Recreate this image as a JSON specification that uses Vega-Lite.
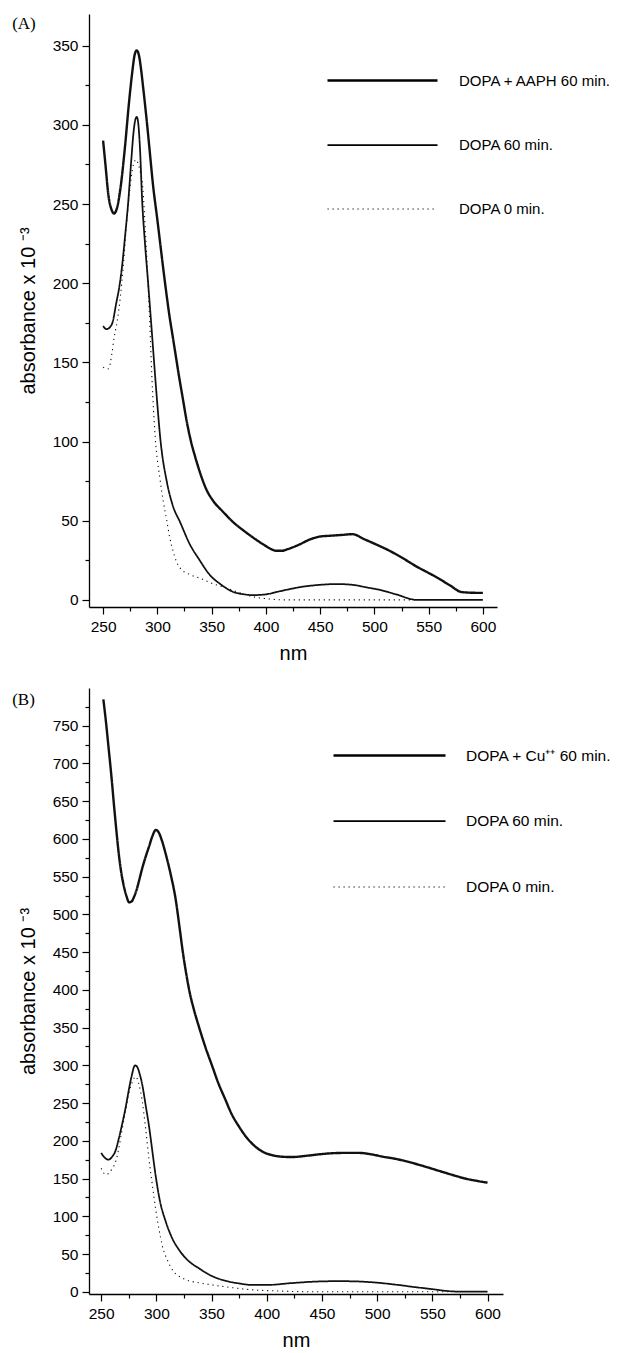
{
  "$schema": "https://vega.github.io/schema/vega-lite/v6.json",
  "background": "white",
  "padding": {"left": 12, "top": 14, "right": 5, "bottom": 0},
  "spacing": 24,
  "config": {
    "view": {"stroke": null},
    "font": "Liberation Sans",
    "axis": {
      "grid": false,
      "domainColor": "#000",
      "domainWidth": 1.3,
      "tickColor": "#000",
      "tickWidth": 1.2,
      "labelColor": "#000",
      "labelFont": "Liberation Sans",
      "labelFontSize": 15.5,
      "titleFont": "Liberation Sans",
      "titleFontSize": 20,
      "titleFontWeight": "normal",
      "titleColor": "#000",
      "labelExpr": "datum.value % 50 === 0 ? datum.label : ''",
      "tickSize": {"condition": {"test": "datum.value % 50 === 0", "value": 7}, "value": 4}
    },
    "axisX": {"labelPadding": 5, "titlePadding": 9},
    "axisY": {"labelPadding": 4, "titlePadding": 14},
    "legend": {
      "symbolType": "stroke",
      "symbolStrokeColor": "#000",
      "labelFont": "Liberation Sans",
      "labelColor": "#000",
      "labelLimit": 300,
      "title": null
    },
    "title": {"font": "Liberation Serif", "fontSize": 17, "fontWeight": "normal", "color": "#000"}
  },
  "datasets": {
    "A": [
      {"series": "DOPA + AAPH 60 min.", "nm": 250, "abs": 290},
      {"series": "DOPA + AAPH 60 min.", "nm": 252, "abs": 276},
      {"series": "DOPA + AAPH 60 min.", "nm": 255, "abs": 255},
      {"series": "DOPA + AAPH 60 min.", "nm": 258, "abs": 246},
      {"series": "DOPA + AAPH 60 min.", "nm": 260, "abs": 244},
      {"series": "DOPA + AAPH 60 min.", "nm": 263, "abs": 248},
      {"series": "DOPA + AAPH 60 min.", "nm": 266, "abs": 260},
      {"series": "DOPA + AAPH 60 min.", "nm": 270, "abs": 285},
      {"series": "DOPA + AAPH 60 min.", "nm": 274, "abs": 315},
      {"series": "DOPA + AAPH 60 min.", "nm": 277, "abs": 334},
      {"series": "DOPA + AAPH 60 min.", "nm": 279, "abs": 344},
      {"series": "DOPA + AAPH 60 min.", "nm": 281, "abs": 347},
      {"series": "DOPA + AAPH 60 min.", "nm": 283, "abs": 344},
      {"series": "DOPA + AAPH 60 min.", "nm": 285, "abs": 335},
      {"series": "DOPA + AAPH 60 min.", "nm": 287, "abs": 323},
      {"series": "DOPA + AAPH 60 min.", "nm": 290, "abs": 304},
      {"series": "DOPA + AAPH 60 min.", "nm": 293, "abs": 283},
      {"series": "DOPA + AAPH 60 min.", "nm": 296, "abs": 262},
      {"series": "DOPA + AAPH 60 min.", "nm": 300, "abs": 240},
      {"series": "DOPA + AAPH 60 min.", "nm": 303, "abs": 223},
      {"series": "DOPA + AAPH 60 min.", "nm": 306, "abs": 206},
      {"series": "DOPA + AAPH 60 min.", "nm": 309, "abs": 190},
      {"series": "DOPA + AAPH 60 min.", "nm": 311, "abs": 180},
      {"series": "DOPA + AAPH 60 min.", "nm": 314, "abs": 167},
      {"series": "DOPA + AAPH 60 min.", "nm": 317, "abs": 154},
      {"series": "DOPA + AAPH 60 min.", "nm": 320, "abs": 141},
      {"series": "DOPA + AAPH 60 min.", "nm": 323, "abs": 129},
      {"series": "DOPA + AAPH 60 min.", "nm": 327, "abs": 113},
      {"series": "DOPA + AAPH 60 min.", "nm": 331, "abs": 100},
      {"series": "DOPA + AAPH 60 min.", "nm": 335, "abs": 90},
      {"series": "DOPA + AAPH 60 min.", "nm": 339, "abs": 81},
      {"series": "DOPA + AAPH 60 min.", "nm": 345, "abs": 70},
      {"series": "DOPA + AAPH 60 min.", "nm": 352, "abs": 62},
      {"series": "DOPA + AAPH 60 min.", "nm": 360, "abs": 56},
      {"series": "DOPA + AAPH 60 min.", "nm": 370, "abs": 49},
      {"series": "DOPA + AAPH 60 min.", "nm": 380, "abs": 43.5},
      {"series": "DOPA + AAPH 60 min.", "nm": 390, "abs": 38.5},
      {"series": "DOPA + AAPH 60 min.", "nm": 400, "abs": 34},
      {"series": "DOPA + AAPH 60 min.", "nm": 405, "abs": 32},
      {"series": "DOPA + AAPH 60 min.", "nm": 410, "abs": 31},
      {"series": "DOPA + AAPH 60 min.", "nm": 415, "abs": 31},
      {"series": "DOPA + AAPH 60 min.", "nm": 420, "abs": 32},
      {"series": "DOPA + AAPH 60 min.", "nm": 431, "abs": 35},
      {"series": "DOPA + AAPH 60 min.", "nm": 440, "abs": 38},
      {"series": "DOPA + AAPH 60 min.", "nm": 450, "abs": 40},
      {"series": "DOPA + AAPH 60 min.", "nm": 459, "abs": 40.5},
      {"series": "DOPA + AAPH 60 min.", "nm": 470, "abs": 41},
      {"series": "DOPA + AAPH 60 min.", "nm": 480, "abs": 41.5},
      {"series": "DOPA + AAPH 60 min.", "nm": 490, "abs": 38.5},
      {"series": "DOPA + AAPH 60 min.", "nm": 500, "abs": 35.5},
      {"series": "DOPA + AAPH 60 min.", "nm": 514, "abs": 31},
      {"series": "DOPA + AAPH 60 min.", "nm": 527, "abs": 26},
      {"series": "DOPA + AAPH 60 min.", "nm": 539, "abs": 21},
      {"series": "DOPA + AAPH 60 min.", "nm": 550, "abs": 17},
      {"series": "DOPA + AAPH 60 min.", "nm": 558, "abs": 14},
      {"series": "DOPA + AAPH 60 min.", "nm": 570, "abs": 9},
      {"series": "DOPA + AAPH 60 min.", "nm": 580, "abs": 5},
      {"series": "DOPA + AAPH 60 min.", "nm": 590, "abs": 4.5},
      {"series": "DOPA + AAPH 60 min.", "nm": 600, "abs": 4.4},

      {"series": "DOPA 60 min.", "nm": 250, "abs": 173},
      {"series": "DOPA 60 min.", "nm": 253, "abs": 171},
      {"series": "DOPA 60 min.", "nm": 256, "abs": 172},
      {"series": "DOPA 60 min.", "nm": 259, "abs": 176},
      {"series": "DOPA 60 min.", "nm": 262, "abs": 187},
      {"series": "DOPA 60 min.", "nm": 265, "abs": 198},
      {"series": "DOPA 60 min.", "nm": 268, "abs": 214},
      {"series": "DOPA 60 min.", "nm": 270, "abs": 228},
      {"series": "DOPA 60 min.", "nm": 273, "abs": 250},
      {"series": "DOPA 60 min.", "nm": 276, "abs": 278},
      {"series": "DOPA 60 min.", "nm": 278, "abs": 295},
      {"series": "DOPA 60 min.", "nm": 280, "abs": 304},
      {"series": "DOPA 60 min.", "nm": 281, "abs": 305},
      {"series": "DOPA 60 min.", "nm": 282, "abs": 303},
      {"series": "DOPA 60 min.", "nm": 284, "abs": 285},
      {"series": "DOPA 60 min.", "nm": 286, "abs": 252},
      {"series": "DOPA 60 min.", "nm": 288.5, "abs": 226},
      {"series": "DOPA 60 min.", "nm": 291.5, "abs": 200},
      {"series": "DOPA 60 min.", "nm": 294.5, "abs": 173},
      {"series": "DOPA 60 min.", "nm": 297, "abs": 150},
      {"series": "DOPA 60 min.", "nm": 299.8, "abs": 125},
      {"series": "DOPA 60 min.", "nm": 303, "abs": 100},
      {"series": "DOPA 60 min.", "nm": 308.6, "abs": 75},
      {"series": "DOPA 60 min.", "nm": 314, "abs": 60},
      {"series": "DOPA 60 min.", "nm": 321, "abs": 49},
      {"series": "DOPA 60 min.", "nm": 330, "abs": 35},
      {"series": "DOPA 60 min.", "nm": 339, "abs": 25},
      {"series": "DOPA 60 min.", "nm": 348, "abs": 16},
      {"series": "DOPA 60 min.", "nm": 358, "abs": 10},
      {"series": "DOPA 60 min.", "nm": 370, "abs": 5},
      {"series": "DOPA 60 min.", "nm": 380, "abs": 3.5},
      {"series": "DOPA 60 min.", "nm": 388, "abs": 3},
      {"series": "DOPA 60 min.", "nm": 400, "abs": 3.5},
      {"series": "DOPA 60 min.", "nm": 410, "abs": 5},
      {"series": "DOPA 60 min.", "nm": 420, "abs": 6.5},
      {"series": "DOPA 60 min.", "nm": 431, "abs": 8},
      {"series": "DOPA 60 min.", "nm": 450, "abs": 9.5},
      {"series": "DOPA 60 min.", "nm": 465, "abs": 10},
      {"series": "DOPA 60 min.", "nm": 480, "abs": 9.5},
      {"series": "DOPA 60 min.", "nm": 492, "abs": 8},
      {"series": "DOPA 60 min.", "nm": 505, "abs": 6.3},
      {"series": "DOPA 60 min.", "nm": 520, "abs": 3.5},
      {"series": "DOPA 60 min.", "nm": 539, "abs": 0},
      {"series": "DOPA 60 min.", "nm": 560, "abs": 0},
      {"series": "DOPA 60 min.", "nm": 580, "abs": 0},
      {"series": "DOPA 60 min.", "nm": 600, "abs": 0},

      {"series": "DOPA 0 min.", "nm": 250, "abs": 147},
      {"series": "DOPA 0 min.", "nm": 253, "abs": 146},
      {"series": "DOPA 0 min.", "nm": 255, "abs": 146},
      {"series": "DOPA 0 min.", "nm": 258, "abs": 155},
      {"series": "DOPA 0 min.", "nm": 260, "abs": 165},
      {"series": "DOPA 0 min.", "nm": 263, "abs": 176},
      {"series": "DOPA 0 min.", "nm": 266, "abs": 192},
      {"series": "DOPA 0 min.", "nm": 268.5, "abs": 210},
      {"series": "DOPA 0 min.", "nm": 271, "abs": 232},
      {"series": "DOPA 0 min.", "nm": 273.5, "abs": 252},
      {"series": "DOPA 0 min.", "nm": 276, "abs": 267},
      {"series": "DOPA 0 min.", "nm": 278, "abs": 275},
      {"series": "DOPA 0 min.", "nm": 280.4, "abs": 278},
      {"series": "DOPA 0 min.", "nm": 282, "abs": 276},
      {"series": "DOPA 0 min.", "nm": 284, "abs": 271},
      {"series": "DOPA 0 min.", "nm": 286.6, "abs": 260},
      {"series": "DOPA 0 min.", "nm": 289, "abs": 232},
      {"series": "DOPA 0 min.", "nm": 291.7, "abs": 195},
      {"series": "DOPA 0 min.", "nm": 293, "abs": 175},
      {"series": "DOPA 0 min.", "nm": 295, "abs": 140},
      {"series": "DOPA 0 min.", "nm": 298, "abs": 103},
      {"series": "DOPA 0 min.", "nm": 302.5, "abs": 76},
      {"series": "DOPA 0 min.", "nm": 305.5, "abs": 62},
      {"series": "DOPA 0 min.", "nm": 308.7, "abs": 50},
      {"series": "DOPA 0 min.", "nm": 311.5, "abs": 39},
      {"series": "DOPA 0 min.", "nm": 314.8, "abs": 30},
      {"series": "DOPA 0 min.", "nm": 318, "abs": 23.5},
      {"series": "DOPA 0 min.", "nm": 321, "abs": 20},
      {"series": "DOPA 0 min.", "nm": 330, "abs": 16},
      {"series": "DOPA 0 min.", "nm": 339, "abs": 13.7},
      {"series": "DOPA 0 min.", "nm": 350, "abs": 10.5},
      {"series": "DOPA 0 min.", "nm": 364, "abs": 7.4},
      {"series": "DOPA 0 min.", "nm": 376, "abs": 4.5},
      {"series": "DOPA 0 min.", "nm": 388, "abs": 2},
      {"series": "DOPA 0 min.", "nm": 400, "abs": 0.8},
      {"series": "DOPA 0 min.", "nm": 416, "abs": 0},
      {"series": "DOPA 0 min.", "nm": 450, "abs": 0},
      {"series": "DOPA 0 min.", "nm": 500, "abs": 0},
      {"series": "DOPA 0 min.", "nm": 540, "abs": 0}
    ],
    "B": [
      {"series": "DOPA + Cu⁺⁺ 60 min.", "nm": 252, "abs": 785},
      {"series": "DOPA + Cu⁺⁺ 60 min.", "nm": 254, "abs": 760},
      {"series": "DOPA + Cu⁺⁺ 60 min.", "nm": 257, "abs": 717},
      {"series": "DOPA + Cu⁺⁺ 60 min.", "nm": 259.5, "abs": 680},
      {"series": "DOPA + Cu⁺⁺ 60 min.", "nm": 261.8, "abs": 642},
      {"series": "DOPA + Cu⁺⁺ 60 min.", "nm": 264, "abs": 608},
      {"series": "DOPA + Cu⁺⁺ 60 min.", "nm": 266.3, "abs": 576},
      {"series": "DOPA + Cu⁺⁺ 60 min.", "nm": 268.5, "abs": 553},
      {"series": "DOPA + Cu⁺⁺ 60 min.", "nm": 270.8, "abs": 536},
      {"series": "DOPA + Cu⁺⁺ 60 min.", "nm": 273, "abs": 524},
      {"series": "DOPA + Cu⁺⁺ 60 min.", "nm": 275.3, "abs": 516},
      {"series": "DOPA + Cu⁺⁺ 60 min.", "nm": 277.5, "abs": 517},
      {"series": "DOPA + Cu⁺⁺ 60 min.", "nm": 280, "abs": 524},
      {"series": "DOPA + Cu⁺⁺ 60 min.", "nm": 282.2, "abs": 533},
      {"series": "DOPA + Cu⁺⁺ 60 min.", "nm": 284.4, "abs": 545},
      {"series": "DOPA + Cu⁺⁺ 60 min.", "nm": 287, "abs": 560},
      {"series": "DOPA + Cu⁺⁺ 60 min.", "nm": 290, "abs": 575},
      {"series": "DOPA + Cu⁺⁺ 60 min.", "nm": 293.4, "abs": 590},
      {"series": "DOPA + Cu⁺⁺ 60 min.", "nm": 296.5, "abs": 604},
      {"series": "DOPA + Cu⁺⁺ 60 min.", "nm": 299.5, "abs": 612},
      {"series": "DOPA + Cu⁺⁺ 60 min.", "nm": 302, "abs": 609},
      {"series": "DOPA + Cu⁺⁺ 60 min.", "nm": 305, "abs": 598},
      {"series": "DOPA + Cu⁺⁺ 60 min.", "nm": 308.5, "abs": 580},
      {"series": "DOPA + Cu⁺⁺ 60 min.", "nm": 313, "abs": 553},
      {"series": "DOPA + Cu⁺⁺ 60 min.", "nm": 317.5, "abs": 520},
      {"series": "DOPA + Cu⁺⁺ 60 min.", "nm": 321, "abs": 483},
      {"series": "DOPA + Cu⁺⁺ 60 min.", "nm": 324, "abs": 450},
      {"series": "DOPA + Cu⁺⁺ 60 min.", "nm": 327, "abs": 422},
      {"series": "DOPA + Cu⁺⁺ 60 min.", "nm": 330, "abs": 398},
      {"series": "DOPA + Cu⁺⁺ 60 min.", "nm": 334, "abs": 374},
      {"series": "DOPA + Cu⁺⁺ 60 min.", "nm": 338.6, "abs": 351},
      {"series": "DOPA + Cu⁺⁺ 60 min.", "nm": 344, "abs": 326},
      {"series": "DOPA + Cu⁺⁺ 60 min.", "nm": 350.6, "abs": 299},
      {"series": "DOPA + Cu⁺⁺ 60 min.", "nm": 356, "abs": 277},
      {"series": "DOPA + Cu⁺⁺ 60 min.", "nm": 362.7, "abs": 254},
      {"series": "DOPA + Cu⁺⁺ 60 min.", "nm": 368, "abs": 236},
      {"series": "DOPA + Cu⁺⁺ 60 min.", "nm": 374.8, "abs": 219},
      {"series": "DOPA + Cu⁺⁺ 60 min.", "nm": 382, "abs": 204},
      {"series": "DOPA + Cu⁺⁺ 60 min.", "nm": 389.9, "abs": 192},
      {"series": "DOPA + Cu⁺⁺ 60 min.", "nm": 397, "abs": 185},
      {"series": "DOPA + Cu⁺⁺ 60 min.", "nm": 404.9, "abs": 181},
      {"series": "DOPA + Cu⁺⁺ 60 min.", "nm": 413, "abs": 179},
      {"series": "DOPA + Cu⁺⁺ 60 min.", "nm": 423, "abs": 178.5},
      {"series": "DOPA + Cu⁺⁺ 60 min.", "nm": 435, "abs": 180},
      {"series": "DOPA + Cu⁺⁺ 60 min.", "nm": 447, "abs": 182},
      {"series": "DOPA + Cu⁺⁺ 60 min.", "nm": 459, "abs": 183.5},
      {"series": "DOPA + Cu⁺⁺ 60 min.", "nm": 471, "abs": 184},
      {"series": "DOPA + Cu⁺⁺ 60 min.", "nm": 483, "abs": 184},
      {"series": "DOPA + Cu⁺⁺ 60 min.", "nm": 495, "abs": 182},
      {"series": "DOPA + Cu⁺⁺ 60 min.", "nm": 505, "abs": 179},
      {"series": "DOPA + Cu⁺⁺ 60 min.", "nm": 517, "abs": 176},
      {"series": "DOPA + Cu⁺⁺ 60 min.", "nm": 528.5, "abs": 172},
      {"series": "DOPA + Cu⁺⁺ 60 min.", "nm": 543, "abs": 166},
      {"series": "DOPA + Cu⁺⁺ 60 min.", "nm": 558.6, "abs": 159},
      {"series": "DOPA + Cu⁺⁺ 60 min.", "nm": 570, "abs": 154},
      {"series": "DOPA + Cu⁺⁺ 60 min.", "nm": 579.7, "abs": 150},
      {"series": "DOPA + Cu⁺⁺ 60 min.", "nm": 590, "abs": 147},
      {"series": "DOPA + Cu⁺⁺ 60 min.", "nm": 600, "abs": 144.5},

      {"series": "DOPA 60 min.", "nm": 250, "abs": 184},
      {"series": "DOPA 60 min.", "nm": 253, "abs": 178},
      {"series": "DOPA 60 min.", "nm": 256.6, "abs": 175},
      {"series": "DOPA 60 min.", "nm": 260, "abs": 179},
      {"series": "DOPA 60 min.", "nm": 263.3, "abs": 188},
      {"series": "DOPA 60 min.", "nm": 266, "abs": 203},
      {"series": "DOPA 60 min.", "nm": 269, "abs": 222},
      {"series": "DOPA 60 min.", "nm": 272.3, "abs": 245},
      {"series": "DOPA 60 min.", "nm": 275, "abs": 267},
      {"series": "DOPA 60 min.", "nm": 277.5, "abs": 285},
      {"series": "DOPA 60 min.", "nm": 280.7, "abs": 300},
      {"series": "DOPA 60 min.", "nm": 283, "abs": 297},
      {"series": "DOPA 60 min.", "nm": 285, "abs": 288},
      {"series": "DOPA 60 min.", "nm": 287.3, "abs": 274},
      {"series": "DOPA 60 min.", "nm": 290, "abs": 250},
      {"series": "DOPA 60 min.", "nm": 293.4, "abs": 219},
      {"series": "DOPA 60 min.", "nm": 296.5, "abs": 185},
      {"series": "DOPA 60 min.", "nm": 299.5, "abs": 152.5},
      {"series": "DOPA 60 min.", "nm": 303, "abs": 122},
      {"series": "DOPA 60 min.", "nm": 308.5, "abs": 93},
      {"series": "DOPA 60 min.", "nm": 314, "abs": 72},
      {"series": "DOPA 60 min.", "nm": 320.5, "abs": 55.6},
      {"series": "DOPA 60 min.", "nm": 329, "abs": 41},
      {"series": "DOPA 60 min.", "nm": 338.6, "abs": 31},
      {"series": "DOPA 60 min.", "nm": 350, "abs": 21},
      {"series": "DOPA 60 min.", "nm": 362.7, "abs": 14.5},
      {"series": "DOPA 60 min.", "nm": 375, "abs": 11},
      {"series": "DOPA 60 min.", "nm": 386.8, "abs": 9},
      {"series": "DOPA 60 min.", "nm": 400, "abs": 9},
      {"series": "DOPA 60 min.", "nm": 423, "abs": 11.5},
      {"series": "DOPA 60 min.", "nm": 447, "abs": 13.6},
      {"series": "DOPA 60 min.", "nm": 465, "abs": 14},
      {"series": "DOPA 60 min.", "nm": 483, "abs": 13.6},
      {"series": "DOPA 60 min.", "nm": 500, "abs": 12},
      {"series": "DOPA 60 min.", "nm": 519, "abs": 9},
      {"series": "DOPA 60 min.", "nm": 535, "abs": 6},
      {"series": "DOPA 60 min.", "nm": 549.6, "abs": 3.5},
      {"series": "DOPA 60 min.", "nm": 567.6, "abs": 0.5},
      {"series": "DOPA 60 min.", "nm": 580, "abs": 0},
      {"series": "DOPA 60 min.", "nm": 600, "abs": 0},

      {"series": "DOPA 0 min.", "nm": 250, "abs": 163.6},
      {"series": "DOPA 0 min.", "nm": 252.5, "abs": 157},
      {"series": "DOPA 0 min.", "nm": 254.8, "abs": 155},
      {"series": "DOPA 0 min.", "nm": 257.5, "abs": 158},
      {"series": "DOPA 0 min.", "nm": 260, "abs": 163},
      {"series": "DOPA 0 min.", "nm": 263.3, "abs": 173},
      {"series": "DOPA 0 min.", "nm": 266, "abs": 190},
      {"series": "DOPA 0 min.", "nm": 269, "abs": 215},
      {"series": "DOPA 0 min.", "nm": 272.3, "abs": 241},
      {"series": "DOPA 0 min.", "nm": 275, "abs": 262},
      {"series": "DOPA 0 min.", "nm": 278, "abs": 277},
      {"series": "DOPA 0 min.", "nm": 281.4, "abs": 285},
      {"series": "DOPA 0 min.", "nm": 284, "abs": 276},
      {"series": "DOPA 0 min.", "nm": 287.3, "abs": 252},
      {"series": "DOPA 0 min.", "nm": 290, "abs": 220},
      {"series": "DOPA 0 min.", "nm": 293.4, "abs": 175},
      {"series": "DOPA 0 min.", "nm": 296.5, "abs": 140},
      {"series": "DOPA 0 min.", "nm": 299.5, "abs": 108.5},
      {"series": "DOPA 0 min.", "nm": 302.5, "abs": 82},
      {"series": "DOPA 0 min.", "nm": 305.4, "abs": 61},
      {"series": "DOPA 0 min.", "nm": 310, "abs": 42},
      {"series": "DOPA 0 min.", "nm": 314.5, "abs": 29},
      {"series": "DOPA 0 min.", "nm": 320, "abs": 21},
      {"series": "DOPA 0 min.", "nm": 326.6, "abs": 16},
      {"series": "DOPA 0 min.", "nm": 338, "abs": 12},
      {"series": "DOPA 0 min.", "nm": 350.6, "abs": 9},
      {"series": "DOPA 0 min.", "nm": 368, "abs": 5.5},
      {"series": "DOPA 0 min.", "nm": 386.8, "abs": 2.6},
      {"series": "DOPA 0 min.", "nm": 410, "abs": 1},
      {"series": "DOPA 0 min.", "nm": 440, "abs": 0},
      {"series": "DOPA 0 min.", "nm": 480, "abs": 0},
      {"series": "DOPA 0 min.", "nm": 520, "abs": 0},
      {"series": "DOPA 0 min.", "nm": 565, "abs": 0}
    ]
  },
  "vconcat": [
    {
      "width": 408,
      "height": 593,
      "title": {"text": "(A)", "anchor": "start", "frame": "bounds", "baseline": "top", "offset": -19, "dx": -6},
      "data": {"name": "A"},
      "mark": {"type": "line", "interpolate": "monotone", "color": "#111"},
      "encoding": {
        "x": {"field": "nm", "type": "quantitative", "title": "nm",
              "scale": {"domain": [237, 613], "nice": false, "zero": false},
              "axis": {"values": [250,275,300,325,350,375,400,425,450,475,500,525,550,575,600]}},
        "y": {"field": "abs", "type": "quantitative", "title": "absorbance x 10 ⁻³",
              "scale": {"domain": [-4.5, 370], "nice": false, "zero": false},
              "axis": {"values": [0,25,50,75,100,125,150,175,200,225,250,275,300,325,350]}},
        "strokeDash": {"field": "series", "type": "nominal",
              "scale": {"domain": ["DOPA + AAPH 60 min.", "DOPA 60 min.", "DOPA 0 min."], "range": [[1,0],[1,0],[1.2,3.8]]},
              "legend": {"orient": "none", "legendX": 237, "legendY": 10, "symbolSize": 12100, "labelOffset": 20, "labelFontSize": 15, "rowPadding": -1.5}},
        "strokeWidth": {"field": "series", "type": "nominal",
              "scale": {"domain": ["DOPA + AAPH 60 min.", "DOPA 60 min.", "DOPA 0 min."], "range": [2.4, 1.1, 1.1]},
              "legend": {"orient": "none", "legendX": 237, "legendY": 10, "symbolSize": 12100, "labelOffset": 20, "labelFontSize": 15, "rowPadding": -1.5}}
      }
    },
    {
      "width": 414,
      "height": 606,
      "title": {"text": "(B)", "anchor": "start", "frame": "bounds", "baseline": "top", "offset": -21, "dx": -6},
      "data": {"name": "B"},
      "mark": {"type": "line", "interpolate": "monotone", "color": "#111"},
      "encoding": {
        "x": {"field": "nm", "type": "quantitative", "title": "nm",
              "scale": {"domain": [239, 614], "nice": false, "zero": false},
              "axis": {"values": [250,275,300,325,350,375,400,425,450,475,500,525,550,575,600]}},
        "y": {"field": "abs", "type": "quantitative", "title": "absorbance x 10 ⁻³",
              "scale": {"domain": [-3, 800], "nice": false, "zero": false},
              "axis": {"values": [0,25,50,75,100,125,150,175,200,225,250,275,300,325,350,375,400,425,450,475,500,525,550,575,600,625,650,675,700,725,750,775]}},
        "strokeDash": {"field": "series", "type": "nominal",
              "scale": {"domain": ["DOPA + Cu⁺⁺ 60 min.", "DOPA 60 min.", "DOPA 0 min."], "range": [[1,0],[1,0],[1.2,3.8]]},
              "legend": {"orient": "none", "legendX": 243, "legendY": 10, "symbolSize": 12544, "labelOffset": 19, "labelFontSize": 15.5, "rowPadding": -1.5}},
        "strokeWidth": {"field": "series", "type": "nominal",
              "scale": {"domain": ["DOPA + Cu⁺⁺ 60 min.", "DOPA 60 min.", "DOPA 0 min."], "range": [2.4, 1.1, 1.1]},
              "legend": {"orient": "none", "legendX": 243, "legendY": 10, "symbolSize": 12544, "labelOffset": 19, "labelFontSize": 15.5, "rowPadding": -1.5}}
      }
    }
  ],
  "resolve": {"scale": {"strokeDash": "independent", "strokeWidth": "independent"}, "legend": {"strokeDash": "independent", "strokeWidth": "independent"}}
}
